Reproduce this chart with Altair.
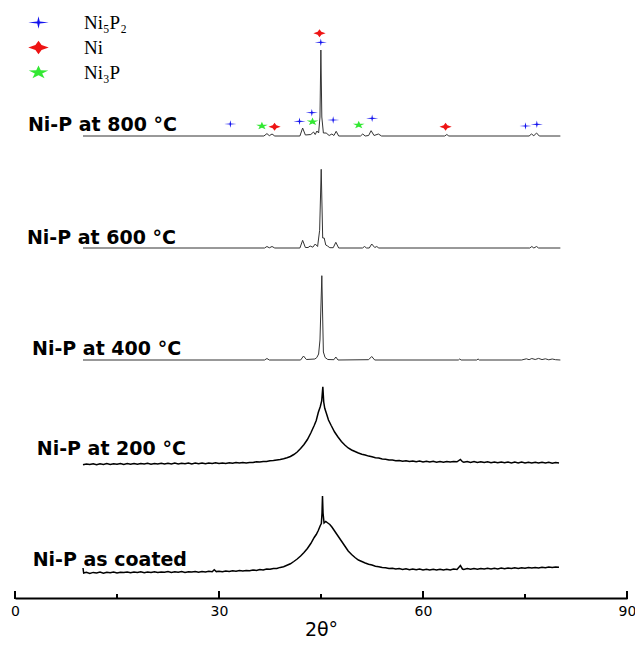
import altair as alt
import pandas as pd

# ---------------- data ----------------
series_names = ["Ni-P as coated", "Ni-P at 200 °C", "Ni-P at 400 °C", "Ni-P at 600 °C", "Ni-P at 800 °C"]
series_offset = [25, 134, 238, 350, 462]

# as coated (amorphous, noisy)
tt_coated = [10.0, 10.1, 10.5, 11, 11.5, 12, 12.5, 13, 13.5, 14, 14.5, 15, 15.5, 16, 16.5, 17, 17.5, 18, 18.5, 19,
             19.5, 20, 20.5, 21, 21.5, 22, 22.5, 23, 23.5, 24, 24.5, 25, 25.5, 26, 26.5, 27, 27.5, 28, 28.5, 29,
             29.3, 29.6, 30, 30.5, 31, 31.5, 32, 32.5, 33, 33.5, 34, 34.5, 35, 35.5, 36, 36.5, 37, 37.5, 38, 38.5,
             39, 39.5, 40, 40.5, 41, 41.5, 42, 42.5, 43, 43.5, 44, 44.3, 44.6, 44.9, 45.05, 45.15, 45.22, 45.3,
             45.45, 45.7, 46.0, 46.3, 46.6, 47.0, 47.5, 48, 48.5, 49, 49.5, 50, 50.5, 51, 51.5, 52, 52.5, 53, 53.5,
             54, 54.5, 55, 55.5, 56, 56.5, 57, 57.5, 58, 58.5, 59, 59.5, 60, 60.5, 61, 61.5, 62, 62.5, 63, 63.5,
             64, 64.5, 65, 65.5, 65.8, 66, 66.5, 67, 67.5, 68, 68.5, 69, 69.5, 70, 70.5, 71, 71.5, 72, 72.5, 73,
             73.5, 74, 74.5, 75, 75.5, 76, 76.5, 77, 77.5, 78, 78.5, 79, 79.5, 80]
int_coated = [5.0, 0.0, 0.8, -0.4, 0.6, 0.1, 0.9, -0.2, 0.7, 0.3, 1.0, 0.0, 0.8, 0.4, 1.1, 0.2, 0.9, 0.5, 1.2, 0.3,
              1.0, 0.6, 1.3, 0.4, 1.1, 0.7, 1.4, 0.5, 1.2, 0.8, 1.5, 0.6, 1.3, 0.9, 1.6, 0.8, 1.5, 1.0, 1.7, 1.2,
              3.2, 1.4, 1.8, 1.3, 2.0, 1.5, 2.2, 1.7, 2.4, 1.9, 2.6, 2.3, 3.0, 2.6, 3.4, 3.0, 4.0, 3.7, 4.6, 4.5,
              5.6, 6.3, 7.8, 9.2, 11.5, 14.0, 17.0, 20.5, 24.5, 29.5, 35.5, 38.5, 42.5, 47.5, 49.5, 60.0, 77.0, 60.0,
              50.0, 51.5, 50.0, 48.5, 46.0, 42.0, 37.0, 32.0, 27.0, 22.0, 18.5, 15.5, 13.0, 11.5, 10.0, 8.8, 8.0, 6.8, 6.3,
              5.5, 5.2, 4.5, 4.8, 3.9, 4.4, 3.6, 4.2, 3.3, 4.0, 3.2, 3.9, 3.0, 3.8, 2.9, 3.7, 3.0, 3.8, 2.9, 3.7,
              3.1, 3.9, 3.5, 7.5, 4.0, 3.6, 4.4, 3.7, 4.5, 3.8, 4.6, 3.9, 4.7, 4.0, 4.8, 4.1, 4.9, 4.3, 5.1, 4.4,
              5.2, 4.6, 5.3, 4.7, 5.5, 4.9, 5.6, 5.0, 5.8, 5.2, 5.9, 5.4, 6.1, 5.7]

# 200 °C (amorphous, noisy)
tt_200 = [10, 10.5, 11, 11.5, 12, 12.5, 13, 13.5, 14, 14.5, 15, 15.5, 16, 16.5, 17, 17.5, 18, 18.5, 19, 19.5, 20,
          20.5, 21, 21.5, 22, 22.5, 23, 23.5, 24, 24.5, 25, 25.5, 26, 26.5, 27, 27.5, 28, 28.5, 29, 29.5, 30, 30.5,
          31, 31.5, 32, 32.5, 33, 33.5, 34, 34.5, 35, 35.5, 36, 36.5, 37, 37.5, 38, 38.5, 39, 39.5, 40, 40.5, 41,
          41.5, 42, 42.5, 43, 43.5, 44, 44.3, 44.6, 44.9, 45.1, 45.27, 45.4, 45.55, 45.8, 46.1, 46.5, 47.0, 47.5,
          48, 48.5, 49, 49.5, 50, 50.5, 51, 51.5, 52, 52.5, 53, 53.5, 54, 54.5, 55, 55.5, 56, 56.5, 57, 57.5, 58,
          58.5, 59, 59.5, 60, 60.5, 61, 61.5, 62, 62.5, 63, 63.5, 64, 64.5, 65, 65.5, 65.8, 66, 66.5, 67, 67.5,
          68, 68.5, 69, 69.5, 70, 70.5, 71, 71.5, 72, 72.5, 73, 73.5, 74, 74.5, 75, 75.5, 76, 76.5, 77, 77.5, 78,
          78.5, 79, 79.5, 80]
int_200 = [-0.8, 0.1, -0.6, 0.2, -0.7, 0.3, -0.4, 0.4, -0.5, 0.3, -0.3, 0.5, -0.4, 0.4, -0.2, 0.6, -0.3, 0.5, -0.1,
           0.7, -0.2, 0.6, 0.0, 0.8, -0.1, 0.7, 0.1, 0.9, 0.0, 0.8, 0.2, 1.0, 0.1, 0.9, 0.3, 1.1, 0.2, 1.0, 0.4,
           1.2, 0.5, 1.1, 0.6, 1.3, 0.7, 1.4, 0.9, 1.6, 1.1, 1.5, 1.5, 2.2, 1.9, 2.6, 2.4, 3.2, 3.4, 4.0, 4.6, 5.3,
           6.3, 7.5, 9.5, 12.0, 15.5, 19.5, 24.5, 31.0, 38.5, 43.5, 51.5, 57.5, 63.0, 77.3, 62.0, 55.7, 50.5, 44.0,
           38.5, 32.0, 27.0, 22.5, 19.0, 16.0, 14.0, 12.5, 11.0, 9.8, 9.0, 7.9, 7.2, 6.2, 5.9, 5.0, 4.8, 4.0, 4.1,
           3.3, 3.6, 2.8, 3.3, 2.4, 3.1, 2.2, 2.9, 2.0, 2.8, 1.9, 2.7, 1.8, 2.6, 1.8, 2.6, 1.9, 2.5, 2.2, 4.5, 2.3,
           1.8, 2.5, 1.6, 2.4, 1.5, 2.3, 1.4, 2.2, 1.3, 2.1, 1.2, 2.0, 1.2, 2.0, 1.1, 1.9, 1.1, 1.9, 1.0, 1.8, 1.0,
           1.8, 0.9, 1.7, 0.9, 1.7, 0.8, 1.6, 0.9]

# 400 °C
tt_400 = [10.0, 36.7, 37.05, 37.4, 42.0, 42.43, 42.85, 44.1, 44.39, 44.65, 44.85, 45.12, 45.35, 45.6, 46.0, 46.9,
          47.18, 47.5, 52.0, 52.46, 52.9, 65.2, 65.4, 65.6, 67.9, 68.1, 68.3, 74.5, 75.2, 75.6, 76.0, 76.5, 77.0,
          77.5, 78.0, 78.5, 79.0, 79.5, 80.2]
int_400 = [0, 0, 1.5, 0, 0, 4, 0.5, 1, 2.5, 6, 20, 84.3, 8, 2.5, 0.5, 0.3, 3, 0, 0.3, 3.5, 0, 0, 1, 0, 0, 1, 0, 0,
           1.2, 0.3, 1.5, 0.5, 1.6, 0.4, 1.2, 0.2, 1.0, 0.3, 0]

# 600 °C
tt_600 = [10.0, 36.7, 37.05, 37.4, 37.8, 38.2, 41.9, 42.3, 42.7, 43.1, 43.4, 43.8, 44.15, 44.5, 44.8, 45.03, 45.25,
          45.47, 45.7, 45.96, 46.3, 46.8, 47.18, 47.6, 51.1, 51.4, 51.7, 52.1, 52.46, 52.9, 53.2, 53.5, 75.7, 76.0,
          76.3, 76.7, 77.0, 80.2]
int_600 = [0, 0, 1.5, 0.2, 1.5, 0, 0, 7.7, 0.5, 0.5, 2, 0.8, 4, 1.5, 17.7, 78.7, 10, 10, 3, 2, 0.3, 0.3, 5.7, 0, 0,
           1.5, 0, 0, 4, 0.5, 1.5, 0, 0, 1.5, 0, 1.5, 0, 0]

# 800 °C
tt_800 = [10.0, 36.6, 37.05, 37.4, 37.8, 38.2, 41.9, 42.3, 42.7, 43.5, 43.9, 44.15, 44.4, 44.65, 44.85, 44.98, 45.12,
          45.35, 45.76, 46.2, 46.6, 46.9, 47.23, 47.6, 50.8, 51.14, 51.5, 52.0, 52.37, 52.8, 53.44, 53.9, 63.2, 63.5,
          63.8, 75.6, 75.95, 76.3, 76.7, 77.1, 80.2]
int_800 = [0, 0, 2.4, 0.3, 2.0, 0, 0, 8, 1, 1.5, 4, 1.5, 5, 3, 19, 86, 19, 3, 3, 0.5, 2, 0.5, 4.7, 0, 0, 2, 0, 0.5,
           5.3, 0.5, 2, 0, 0, 1.5, 0, 0, 2, 0.3, 3, 0, 0]

# phase markers on the 800 °C pattern
phases = ["Ni₅P₂", "Ni", "Ni₃P"]
phase_colors = ["#1414ee", "#ee1414", "#33e833"]
phase_shapes = [
    "M-1,0L-0.12,-0.1L0,-0.62L0.12,-0.1L1,0L0.12,0.1L0,0.62L-0.12,0.1Z",
    "M-1,0L-0.3,-0.24L0,-0.66L0.3,-0.24L1,0L0.3,0.24L0,0.66L-0.3,0.24Z",
    "M0,-0.68L0.22,-0.21L0.95,-0.2L0.36,0.1L0.59,0.55L0,0.28L-0.59,0.55L-0.36,0.1L-0.95,-0.2L-0.22,-0.21Z",
]
marker_phase = ["Ni₅P₂", "Ni₃P", "Ni", "Ni₅P₂", "Ni₅P₂", "Ni₃P", "Ni", "Ni₅P₂", "Ni₅P₂", "Ni₃P", "Ni₅P₂", "Ni",
                "Ni₅P₂", "Ni₅P₂"]
marker_tt = [31.67, 36.31, 38.17, 41.84, 43.65, 43.75, 44.78, 44.97, 46.79, 50.55, 52.52, 63.32, 75.07, 76.74]
marker_h = [12, 10, 9.3, 14.7, 23.3, 14.3, 102.7, 93.7, 16, 11, 17.7, 9.3, 10, 11.7]

# series labels
label_tt = [2.6, 3.2, 2.5, 1.75, 1.9]
label_h = [7, 9, 5, 4, 5]

x_ticks_major = [0, 30, 60, 90]
x_ticks_minor = [15, 45, 75]

# ---------------- tables ----------------
rows = []
for name, off, tts, ints, kind in [
    (series_names[0], series_offset[0], tt_coated, int_coated, "amorphous"),
    (series_names[1], series_offset[1], tt_200, int_200, "amorphous"),
    (series_names[2], series_offset[2], tt_400, int_400, "crystalline"),
    (series_names[3], series_offset[3], tt_600, int_600, "crystalline"),
    (series_names[4], series_offset[4], tt_800, int_800, "crystalline"),
]:
    for t, v in zip(tts, ints):
        rows.append({"series": name, "kind": kind, "tt": t, "y": off + v})
df = pd.DataFrame(rows)

df_mark = pd.DataFrame({"phase": marker_phase, "tt": marker_tt,
                        "y": [series_offset[4] + h for h in marker_h]})
df_label = pd.DataFrame({"series": series_names, "tt": label_tt,
                         "y": [o + h for o, h in zip(series_offset, label_h)]})
df_major = pd.DataFrame({"tt": x_ticks_major})
df_minor = pd.DataFrame({"tt": x_ticks_minor})

xscale = alt.Scale(domain=[0, 90], nice=False, zero=False)
yscale = alt.Scale(domain=[0, 588], nice=False, zero=False)

x_enc = alt.X("tt:Q", scale=xscale, axis=alt.Axis(
    values=x_ticks_major, ticks=False, grid=False, domain=True, domainColor="black", domainWidth=2,
    labelFont="DejaVu Sans", labelFontSize=14, labelColor="black", labelPadding=6, labelFlush=False,
    title="2θ°", titleFont="DejaVu Sans", titleFontSize=19, titleFontWeight="normal", titleColor="black",
    titlePadding=2))
y_enc = alt.Y("y:Q", scale=yscale, axis=None)

amorph = alt.Chart(df).transform_filter(alt.datum.kind == "amorphous").mark_line(
    color="black", strokeWidth=1.5).encode(x=x_enc, y=y_enc, detail="series:N")
cryst = alt.Chart(df).transform_filter(alt.datum.kind == "crystalline").mark_line(
    color="#333333", strokeWidth=1.0).encode(x=x_enc, y=y_enc, detail="series:N")

legend = alt.Legend(orient="none", legendX=13, legendY=2, title=None, direction="vertical",
                    labelFont="Liberation Serif", labelFontSize=19, labelColor="black",
                    symbolSize=420, symbolStrokeWidth=0, rowPadding=4, labelOffset=35, padding=0)
points = alt.Chart(df_mark).mark_point(filled=True, size=150, opacity=1).encode(
    x=alt.X("tt:Q", scale=xscale),
    y=alt.Y("y:Q", scale=yscale),
    color=alt.Color("phase:N", scale=alt.Scale(domain=phases, range=phase_colors), legend=legend),
    shape=alt.Shape("phase:N", scale=alt.Scale(domain=phases, range=phase_shapes), legend=legend),
)

labels = alt.Chart(df_label).mark_text(align="left", baseline="alphabetic", font="DejaVu Sans",
                                       fontWeight="bold", fontSize=19, color="black").encode(
    x=alt.X("tt:Q", scale=xscale), y=alt.Y("y:Q", scale=yscale), text="series:N")

major = alt.Chart(df_major).mark_rule(color="black", strokeWidth=2).encode(
    x=alt.X("tt:Q", scale=xscale), y=alt.value(589), y2=alt.value(581))
minor = alt.Chart(df_minor).mark_rule(color="black", strokeWidth=2).encode(
    x=alt.X("tt:Q", scale=xscale), y=alt.value(589), y2=alt.value(584))

chart = alt.layer(amorph, cryst, major, minor, labels, points).properties(
    width=612, height=588,
    autosize=alt.AutoSizeParams(type="none"),
    padding={"left": 7, "top": 2, "right": 8, "bottom": 43},
    background="white",
).configure_view(stroke="transparent")

chart.save("out.html", embed_options={"renderer": "svg", "actions": False})
